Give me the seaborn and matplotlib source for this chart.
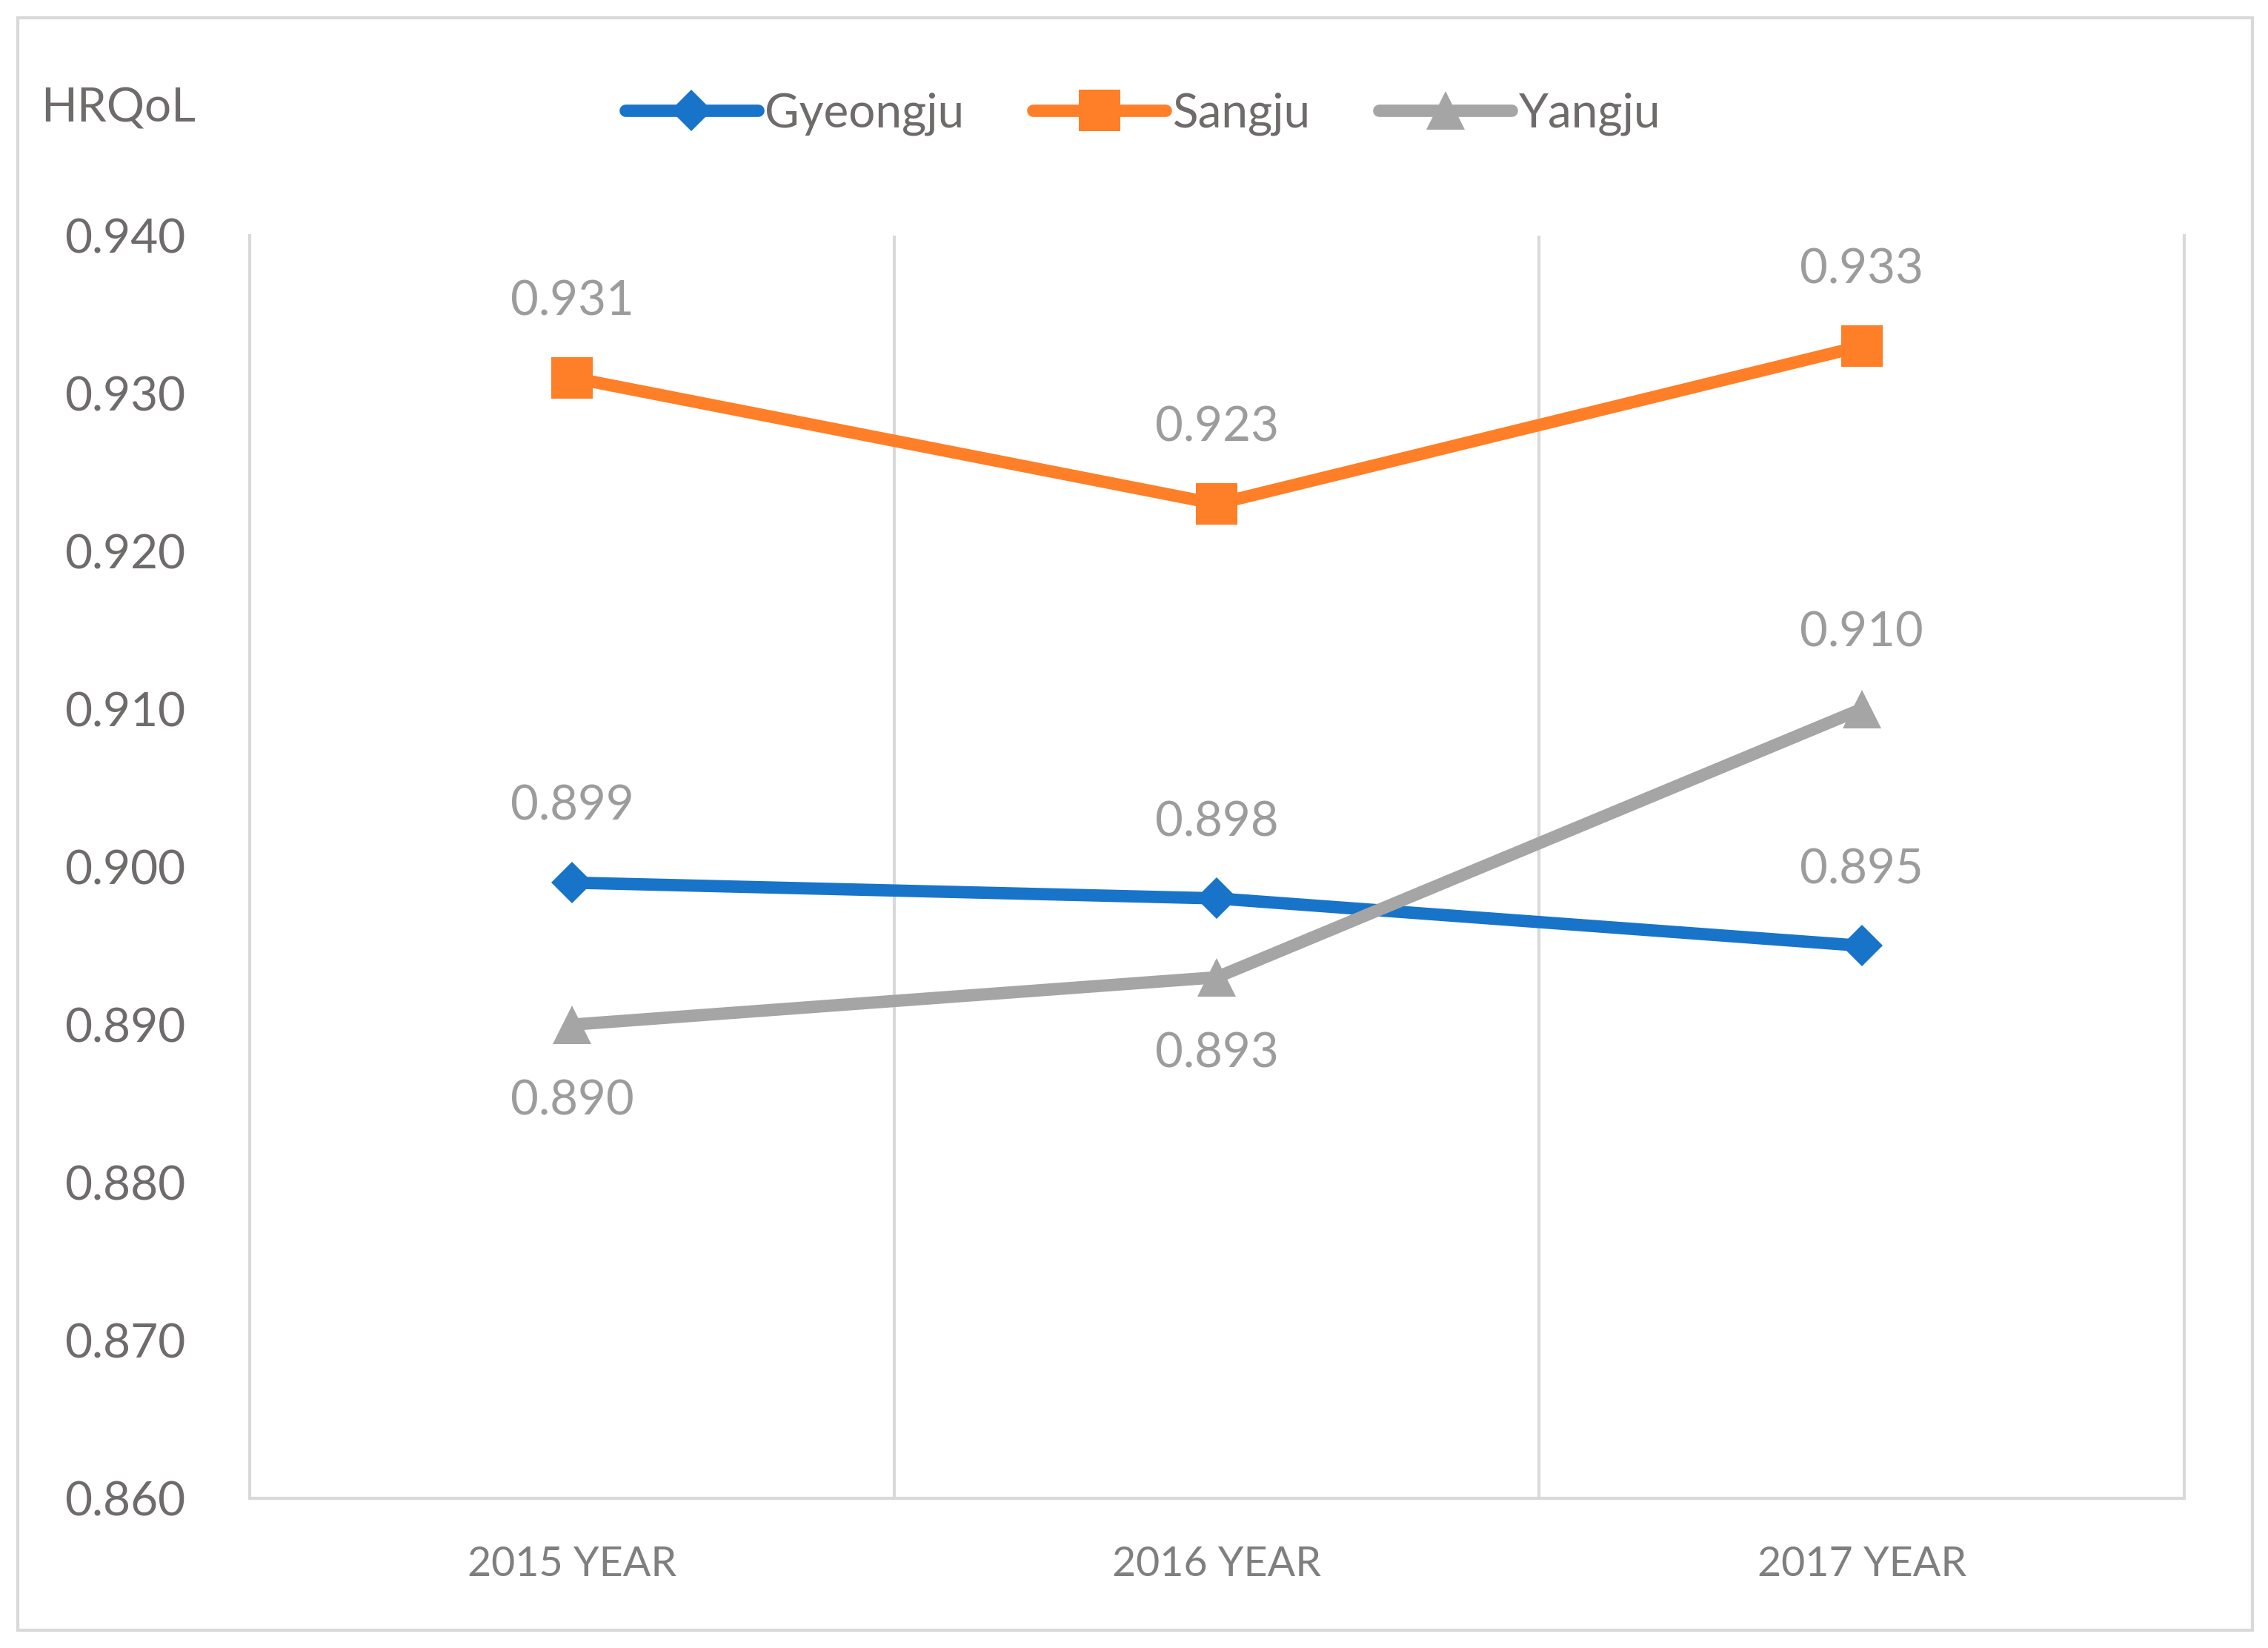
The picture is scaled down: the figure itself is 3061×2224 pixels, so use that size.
import matplotlib
matplotlib.use("Agg")
import matplotlib.pyplot as plt
import matplotlib.patches as patches
import seaborn as sns
import pandas as pd

anos = ["2015 YEAR", "2016 YEAR", "2017 YEAR"]
cidades = ["Gyeongju", "Sangju", "Yangju"]
gyeongju = [0.899, 0.898, 0.895]
sangju = [0.931, 0.923, 0.933]
yangju = [0.890, 0.893, 0.910]
# posicao do rotulo: +1 acima, -1 abaixo
pos_gyeongju = [1, 1, 1]
pos_sangju = [1, 1, 1]
pos_yangju = [-1, -1, 1]

cores = ["#1874C9", "#FE7F27", "#A5A5A5"]
marcadores = ["D", "s", "^"]

df = pd.DataFrame({
    "ano": anos * 3,
    "cidade": [c for c in cidades for _ in anos],
    "valor": gyeongju + sangju + yangju,
})

sns.set_style("white")
plt.rcParams["font.family"] = ["Lato", "DejaVu Sans"]

fig = plt.figure(figsize=(30.61, 22.24), dpi=100)
ax = fig.add_axes([0.110, 0.091, 0.853, 0.766])

sns.lineplot(data=df, x="ano", y="valor", hue="cidade", style="cidade",
             palette=cores, markers=marcadores, dashes=False,
             linewidth=12, markersize=40, markeredgewidth=0, ax=ax)

# diamante um pouco menor que o quadrado
for ln in ax.get_lines():
    if ln.get_marker() == "D":
        ln.set_markersize(29)
    elif ln.get_marker() == "^":
        ln.set_markersize(38)

# rotulos de dados
for valores, posicoes in [(gyeongju, pos_gyeongju), (sangju, pos_sangju), (yangju, pos_yangju)]:
    for i, (v, p) in enumerate(zip(valores, posicoes)):
        ax.annotate(f"{v:.3f}", (i, v), xytext=(0, 74 * p), textcoords="offset points",
                    ha="center", va="center", fontsize=47, color="#9C9C9C")

ax.set_xlim(-0.5, 2.5)
ax.set_ylim(0.860, 0.940)
ax.set_yticks([0.86 + 0.01 * k for k in range(9)])
ax.set_yticklabels([f"{0.86 + 0.01 * k:.3f}" for k in range(9)])
ax.tick_params(axis="y", length=0, pad=62, labelsize=46, labelcolor="#6F6B6B")
ax.tick_params(axis="x", length=0, pad=46, labelsize=40, labelcolor="#7F7F7F")
ax.set_xlabel("")
ax.set_ylabel("")

for x in [0.5, 1.5]:
    ax.axvline(x, color="#D9D9D9", lw=3, zorder=0)
for s in ["left", "right", "bottom"]:
    ax.spines[s].set_color("#D9D9D9")
    ax.spines[s].set_linewidth(3)
ax.spines["top"].set_visible(False)

handles, labels = ax.get_legend_handles_labels()
for h in handles:
    if h.get_marker() == "D":
        h.set_markersize(29)
    elif h.get_marker() == "^":
        h.set_markersize(38)
ax.legend(handles, labels, loc="center", bbox_to_anchor=(0.504, 0.931),
          bbox_transform=fig.transFigure, ncol=3, frameon=False,
          fontsize=46, handlelength=2.8, handletextpad=0.15, columnspacing=1.45,
          labelcolor="#6F6B6B")

fig.text(0.018, 0.934, "HRQoL", fontsize=46, color="#6F6B6B", ha="left", va="center")

fig.patches.append(patches.Rectangle((0.008, 0.011), 0.985, 0.978, transform=fig.transFigure,
                                     fill=False, edgecolor="#D9D9D9", linewidth=3))

fig.savefig("out.png", dpi=100, facecolor="white")
